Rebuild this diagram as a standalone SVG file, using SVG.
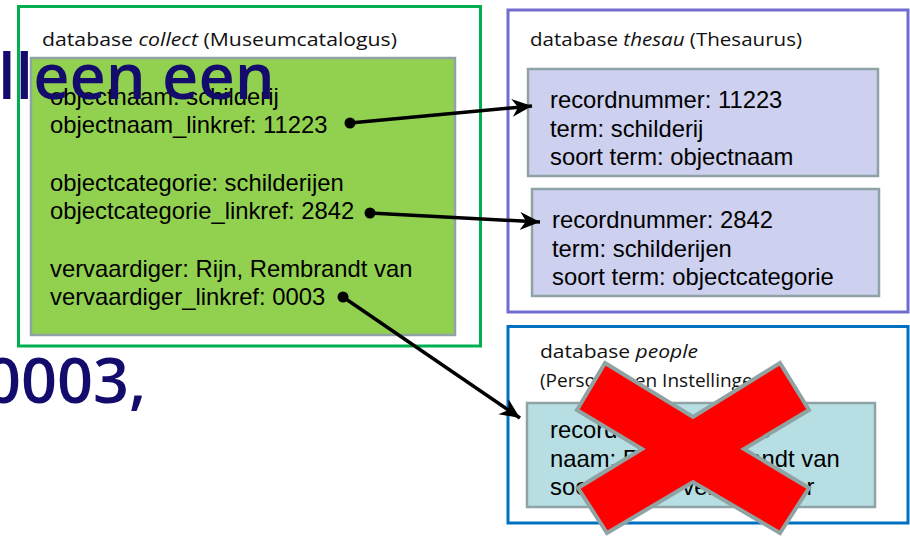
<svg xmlns="http://www.w3.org/2000/svg" width="910" height="537" viewBox="0 0 910 537">
  <style>
    .db { fill: #ffffff; stroke-width: 3; }
    .rec { stroke: #8fa3a6; stroke-width: 2.5; }
    .title { font-family: "Open Sans", "Noto Sans", sans-serif; font-size: 19px; fill: #111111; }
    .it { font-style: italic; }
    .field { font-family: "Liberation Sans", Arial, sans-serif; font-size: 23.8px; fill: #000000; }
    .big { font-family: "Open Sans", "DejaVu Sans", sans-serif; font-size: 63px; font-weight: 600; fill: #140c6c; }
    .link { stroke: #000000; stroke-width: 3.5; fill: none; }
    .dot { fill: #000000; }
  </style>
  <defs>
    <marker id="head" markerUnits="userSpaceOnUse" markerWidth="24" markerHeight="20" refX="20" refY="9" orient="auto">
      <path d="M0,0 L20,9 L0,18 L6,9 z" fill="#000000"/>
    </marker>
  </defs>

  <rect width="910" height="537" fill="#ffffff"/>

  <!-- collection database -->
  <g id="collect">
    <rect class="db" x="18.5" y="6.5" width="462" height="339.5" stroke="#00b050"/>
    <text class="title" x="42" y="46" textLength="355" lengthAdjust="spacingAndGlyphs">database <tspan class="it">collect</tspan> (Museumcatalogus)</text>
    <rect class="rec" x="31" y="58" width="424" height="277" fill="#92d050"/>
    <text class="field" x="50" y="105">objectnaam: schilderij</text>
    <text class="field" x="50" y="133">objectnaam_linkref: 11223</text>
    <text class="field" x="50" y="191">objectcategorie: schilderijen</text>
    <text class="field" x="50" y="219">objectcategorie_linkref: 2842</text>
    <text class="field" x="50" y="277">vervaardiger: Rijn, Rembrandt van</text>
    <text class="field" x="50" y="305">vervaardiger_linkref: 0003</text>
  </g>

  <!-- thesaurus database -->
  <g id="thesau">
    <rect class="db" x="508" y="10" width="400" height="302" stroke="#716ccd"/>
    <text class="title" x="530" y="46" textLength="272" lengthAdjust="spacingAndGlyphs">database <tspan class="it">thesau</tspan> (Thesaurus)</text>
  </g>
  <g id="term-11223">
    <rect class="rec" x="528" y="69" width="350" height="107" fill="#cdd0ee"/>
    <text class="field" x="550" y="108">recordnummer: 11223</text>
    <text class="field" x="550" y="136.5">term: schilderij</text>
    <text class="field" x="550" y="165">soort term: objectnaam</text>
  </g>
  <g id="term-2842">
    <rect class="rec" x="532" y="189" width="347" height="107" fill="#cdd0ee"/>
    <text class="field" x="552" y="228">recordnummer: 2842</text>
    <text class="field" x="552" y="257">term: schilderijen</text>
    <text class="field" x="552" y="285">soort term: objectcategorie</text>
  </g>

  <!-- people database -->
  <g id="people">
    <rect class="db" x="508" y="326.5" width="400" height="196.5" stroke="#0070c0"/>
    <text class="title" x="540" y="358" textLength="158" lengthAdjust="spacingAndGlyphs">database <tspan class="it">people</tspan></text>
    <text class="title" x="540" y="387">(Personen en Instellingen)</text>
  </g>
  <g id="person-0003">
    <rect class="rec" x="527" y="403" width="348" height="104" fill="#b7dfe3"/>
    <text class="field" x="550" y="438">recordnummer: 0003</text>
    <text class="field" x="550" y="467">naam: Rijn, Rembrandt van</text>
    <text class="field" x="550" y="495">soort naam: vervaardiger</text>
  </g>

  <!-- links between records -->
  <g id="connectors">
    <line class="link" x1="350" y1="123" x2="532" y2="106" marker-end="url(#head)"/>
    <circle class="dot" cx="350" cy="123" r="5.5"/>
    <line class="link" x1="370" y1="213" x2="540" y2="222" marker-end="url(#head)"/>
    <circle class="dot" cx="370" cy="213" r="5.5"/>
    <line class="link" x1="343" y1="297" x2="520" y2="418" marker-end="url(#head)"/>
    <circle class="dot" cx="343" cy="297" r="5.5"/>
  </g>

  <!-- cross over the people record -->
  <g id="cross">
    <polygon points="605,363 693,417 780,363 809,410 744,449 809,488 780,533 693,482 607,533 578,488 642,449 577,410"
             fill="#ff0000" stroke="#8fa3a3" stroke-width="4" stroke-linejoin="miter"/>
  </g>

  <!-- slide text -->
  <g id="slide-text">
    <text class="big" x="-2" y="99">lleen een</text>
    <text class="big" x="-15" y="403">0003,</text>
  </g>
</svg>
